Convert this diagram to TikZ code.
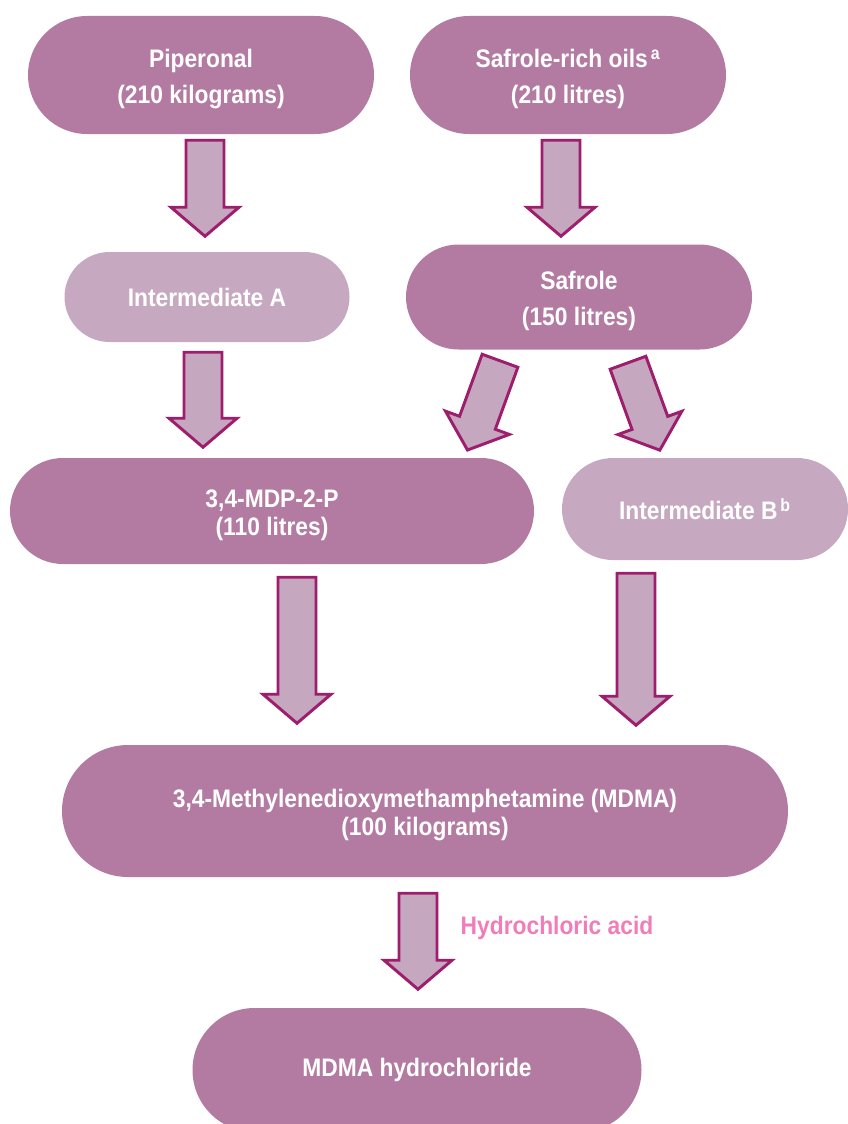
\documentclass[tikz,border=0pt]{standalone}
\usepackage{fontspec}
\newfontfamily\labelfont{Liberation Sans}[FakeStretch=0.9]
\usetikzlibrary{calc,shapes.misc}
\definecolor{pilldark}{HTML}{B47BA2}
\definecolor{pilllight}{HTML}{C6A9C1}
\definecolor{arrowfill}{HTML}{C5A8C0}
\definecolor{arrowline}{HTML}{9E1D6C}
\definecolor{acidpink}{HTML}{F07DB9}
\def\px{0.75pt}
\def\up{\rule{0pt}{20pt}}
\def\blockarrow(#1)(#2:#3){\draw[arrowbody,shift={(#1)},rotate=#2] (-19,0) -- (-19,#3-29) -- (-34,#3-29) -- (0,#3) -- (34,#3-29) -- (19,#3-29) -- (19,0) -- cycle;}

\begin{document}
\begin{tikzpicture}[x=0.75pt,y=-0.75pt,
		pill/.style={rounded rectangle, inner sep=0pt, align=center, text=white,
			font=\labelfont\bfseries\fontsize{19}{21}\selectfont},
		darkpill/.style={pill, fill=pilldark},
		lightpill/.style={pill, fill=pilllight},
		arrowbody/.style={fill=arrowfill, draw=arrowline, line width=2.2pt, line join=miter}]
				\clip (0,0) rectangle (848,1124);
				
				\node[darkpill, minimum width=346*\px, minimum height=118*\px] (pip) at (201,75) {\up Piperonal\\[6pt](210 kilograms)};
				\node[darkpill, minimum width=316*\px, minimum height=118*\px] (oils) at (568,75) {\up Safrole-rich oils\textsuperscript{\,a}\\[6pt](210 litres)};
				
				\node[lightpill, minimum width=285*\px, minimum height=90*\px] (intA) at (207,297) {Intermediate A};
				\node[darkpill, minimum width=346*\px, minimum height=105*\px] (safrole) at (579,297) {\up Safrole\\[6pt](150 litres)};
				
				\node[darkpill, minimum width=524*\px, minimum height=106*\px] (mdp) at (272,511) {\up 3,4-MDP-2-P\\(110 litres)};
				\node[lightpill, minimum width=286*\px, minimum height=102*\px] (intB) at (705,509) {Intermediate B\textsuperscript{\,b}};
				
				\node[darkpill, minimum width=726*\px, minimum height=132*\px] (mdma) at (425,811) {\up 3,4-Methylenedioxymethamphetamine (MDMA)\\(100 kilograms)};
				\node[darkpill, minimum width=449*\px, minimum height=124*\px] (hcl) at (417,1070) {MDMA hydrochloride};
				
				\node[text=acidpink, font=\labelfont\bfseries\fontsize{19}{21}\selectfont] (acid) at (557,928) {Hydrochloric acid};
				
				\coordinate (a1) at ($(pip.south)+(4,6)$);
				\coordinate (a2) at ($(oils.south)+(-7,6)$);
				\coordinate (a3) at ($(intA.south)+(-4,10)$);
				\coordinate (a4) at ($(safrole.south)+(-79,11)$);
				\coordinate (a5) at ($(safrole.south)+(49,13)$);
				\coordinate (a6) at ($(mdp.south)+(25,13)$);
				\coordinate (a7) at ($(intB.south)+(-69,13)$);
				\coordinate (a8) at ($(mdma.south)+(-7,16)$);
				
				\blockarrow(a1)(0:96);
				\blockarrow(a2)(0:96);
				\blockarrow(a3)(0:95);
				\blockarrow(a4)(-20:95);
				\blockarrow(a5)(20:93);
				\blockarrow(a6)(0:146);
				\blockarrow(a7)(0:152);
				\blockarrow(a8)(0:96);
			\end{tikzpicture}
\end{document}
